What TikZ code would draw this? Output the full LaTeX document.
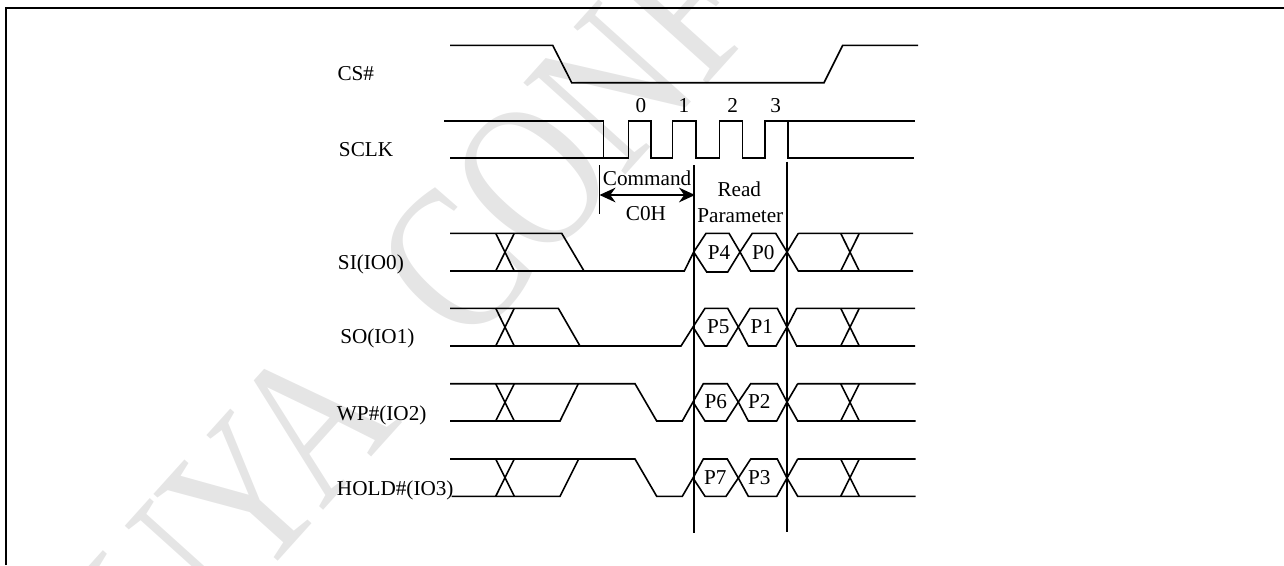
\documentclass[tikz,border=0pt]{standalone}
\usepackage{fontspec}
\usetikzlibrary{arrows.meta}
\setmainfont{Liberation Serif}
\tikzset{
  sig/.style={line width=1.2pt,line join=miter,black},
  lab/.style={anchor=base west,inner sep=0pt,font=\fontsize{15.9}{18}\selectfont},
  ctr/.style={anchor=base,inner sep=0pt,font=\fontsize{15.9}{18}\selectfont},
  wm/.style={anchor=base west,inner sep=0pt,text=black!10,font=\fontsize{157}{170}\selectfont}
}
\begin{document}
\begin{tikzpicture}[x=0.75pt,y=-0.75pt]
\useasboundingbox (0,0) rectangle (1284,565);
\begin{scope}
\clip (0,0) rectangle (1284,565);
\node[wm,rotate=48] (wmark) at (111,747) {\scalebox{0.8}[1]{PUYA\hspace{89pt}CONF}};
\end{scope}
% frame
\draw[line width=1.3pt] (6,565) -- (6,8) -- (1284,8);
% CS#
\draw[sig] (450,45.3) -- (552.7,45.3) -- (571.7,82.7) -- (824,82.7) -- (842.7,45.3) -- (918,45.3);
% SCLK
\draw[sig] (444,121) -- (603.3,121) -- (603.3,158);
\draw[sig] (450,158) -- (628.3,158) -- (628.3,121) -- (650.7,121) -- (650.7,158) -- (672.3,158) -- (672.3,121) -- (695.7,121) -- (695.7,158) -- (719.3,158) -- (719.3,121) -- (742.3,121) -- (742.3,158) -- (765,158) -- (765,121) -- (787.7,121) -- (787.7,158) -- (914,158);
\draw[sig] (787.7,121) -- (915,121);
% verticals
\draw[sig] (599.3,165) -- (599.3,214);
\draw[sig] (693.7,165) -- (693.7,533);
\draw[sig] (787,161.7) -- (787,532);
\draw[sig,<->,>={Stealth[length=12pt,width=11pt]}] (599.5,195) -- (695,195);
% SI
\draw[sig] (450,233.3) -- (561.7,233.3) -- (584,271);
\draw[sig] (450,271) -- (684.3,271) -- (693.7,252) -- (706,233.3) -- (729,233.3) -- (740,252) -- (727.7,272) -- (706.7,272) -- (693.7,252);
\draw[sig] (740,252) -- (752.3,233.3) -- (775.7,233.3) -- (787,252) -- (774,271) -- (750.7,271) -- (740,252);
\draw[sig] (495.7,233.3) -- (514.3,271) (514.3,233.3) -- (495.7,271);
\draw[sig] (798.3,233.3) -- (787,252) -- (798.3,271) -- (913,271) (798.3,233.3) -- (913,233.3);
\draw[sig] (840.7,233.3) -- (859.3,271) (859.3,233.3) -- (840.7,271);
% SO
\draw[sig] (450,308.3) -- (558.3,308.3) -- (580,346);
\draw[sig] (450,346) -- (681,346) -- (693,327) -- (705,308.3) -- (727.7,308.3) -- (738.3,327) -- (726.7,346) -- (705,346) -- (693,327);
\draw[sig] (738.3,327) -- (750,308.3) -- (777.3,308.3) -- (787,327) -- (776,346) -- (748.3,346) -- (738.3,327);
\draw[sig] (495.7,308.3) -- (514.3,346) (514.3,308.3) -- (495.7,346);
\draw[sig] (796.7,308.3) -- (787,327) -- (796.7,346) -- (915,346) (796.7,308.3) -- (915,308.3);
\draw[sig] (840.7,308.3) -- (859.3,346) (859.3,308.3) -- (840.7,346);
% WP
\draw[sig] (450,383.7) -- (635,383.7) -- (656.7,421) -- (682.3,421) -- (693,402) -- (703.3,383.7) -- (727.3,383.7) -- (738.3,402) -- (726,421) -- (705,421) -- (693,402);
\draw[sig] (450,421) -- (560,421) -- (578.3,383.7);
\draw[sig] (738.3,402) -- (750.7,383.7) -- (777.3,383.7) -- (787,402) -- (776.7,421) -- (748.3,421) -- (738.3,402);
\draw[sig] (495.7,383.7) -- (514.3,421) (514.3,383.7) -- (495.7,421);
\draw[sig] (797.7,383.7) -- (787,402) -- (797.7,421) -- (915.7,421) (797.7,383.7) -- (915.7,383.7);
\draw[sig] (840.7,383.7) -- (859.3,421) (859.3,383.7) -- (840.7,421);
% HOLD
\draw[sig] (450,459) -- (635,459) -- (656.7,496.3) -- (682.3,496.3) -- (693,478) -- (703.3,459) -- (727.3,459) -- (738.3,478) -- (726,496.3) -- (705,496.3) -- (693,478);
\draw[sig] (451.7,496.3) -- (560,496.3) -- (578.7,459);
\draw[sig] (738.3,478) -- (750.7,459) -- (777.3,459) -- (787,478) -- (776.7,496.3) -- (748.3,496.3) -- (738.3,478);
\draw[sig] (495.7,459) -- (514.3,496.3) (514.3,459) -- (495.7,496.3);
\draw[sig] (797.7,459) -- (787,478) -- (797.7,496.3) -- (915.7,496.3) (797.7,459) -- (915.7,459);
\draw[sig] (840.7,459) -- (859.3,496.3) (859.3,459) -- (840.7,496.3);
% labels
\node[lab] (lcs) at (337.3,80) {CS\#};
\node[lab] (lsclk) at (338.7,156.7) {SCLK};
\node[lab] (lsi) at (337.7,269) {SI(IO0)};
\node[lab] (lso) at (340,343.3) {SO(IO1)};
\node[lab] (lwp) at (336.7,420) {WP\#(IO2)};
\node[lab] (lhold) at (336.7,495) {HOLD\#(IO3)};
\node[ctr] (d0) at (641,112) {0};
\node[ctr] (d1) at (684,112) {1};
\node[ctr] (d2) at (732.7,112) {2};
\node[ctr] (d3) at (775.7,112) {3};
\node[lab] (cmd) at (602.7,185) {Command};
\node[ctr] (coh) at (646,220.7) {C0H};
\node[ctr] (rd) at (739.3,196.7) {Read};
\node[ctr] (par) at (740.3,222.7) {Parameter};
\node[ctr] (p4) at (719,259) {P4};
\node[ctr] (p0) at (763.3,259) {P0};
\node[ctr] (p5) at (718.3,333.3) {P5};
\node[ctr] (p1) at (761.7,333.3) {P1};
\node[ctr] (p6) at (715.7,408.3) {P6};
\node[ctr] (p2) at (759.3,408.3) {P2};
\node[ctr] (p7) at (715.3,484) {P7};
\node[ctr] (p3) at (759.3,484) {P3};
\end{tikzpicture}
\end{document}
